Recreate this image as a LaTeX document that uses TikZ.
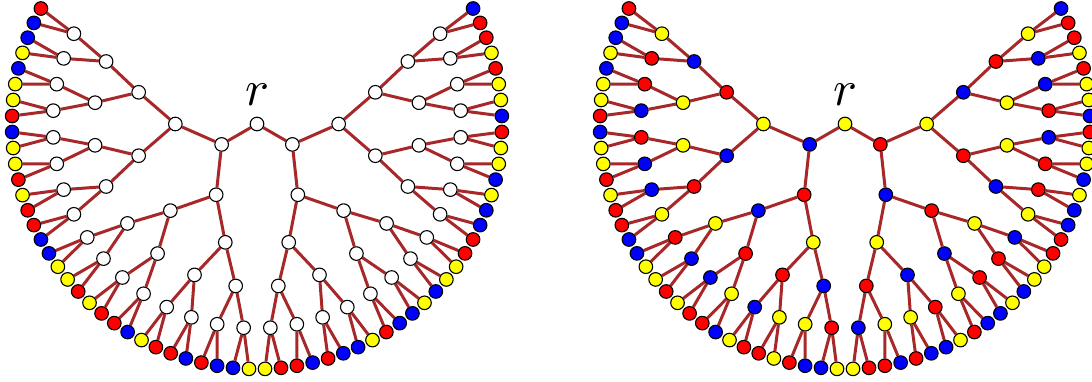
\documentclass[tikz,border=0pt]{standalone}
\usetikzlibrary{backgrounds,calc}
\definecolor{R}{RGB}{255,0,0}
\definecolor{B}{RGB}{0,0,255}
\definecolor{Y}{RGB}{255,255,0}
\definecolor{W}{RGB}{255,255,255}
\definecolor{edgec}{RGB}{168,40,42}
\tikzset{
  tn/.style={circle,draw=black,line width=1.1pt,minimum size=13.6pt,inner sep=0pt},
  br/.style={draw=edgec,line width=3pt},
  rlab/.style={scale=5,inner sep=0pt}
}
% one level of a tree: #1 prefix, #2 depth, #3 colour list
\newcommand\tlevel[3]{%
  \foreach \col [count=\k from 0] in {#3}{%
    \pgfmathsetmacro\ang{151.875+3.75*((\k+0.5)*2^(6-#2)-0.5)}%
    \pgfmathsetmacro\rad{40.8333*#2}%
    \node[tn,fill=\col] (#1-#2-\k) at ($(#1-c)+(\ang:\rad)$) {};
  }%
}
\newcommand\mytree[9]{%
  \coordinate (#1-c) at (#2,257);
  \node[tn,fill=#3] (#1-0-0) at (#1-c) {};
  \tlevel{#1}{1}{#4}
  \tlevel{#1}{2}{#5}
  \tlevel{#1}{3}{#6}
  \tlevel{#1}{4}{#7}
  \tlevel{#1}{5}{#8}
  \tlevel{#1}{6}{#9}
  \begin{pgfonlayer}{background}
  \foreach \d in {1,...,6}{%
    \pgfmathtruncatemacro\n{2^\d-1}%
    \pgfmathtruncatemacro\p{\d-1}%
    \foreach \k in {0,...,\n}{%
      \pgfmathtruncatemacro\q{floor(\k/2)}%
      \draw[br] (#1-\p-\q) -- (#1-\d-\k);
    }%
  }%
  \end{pgfonlayer}
  \node[rlab] (#1-r) at (#2,286) {$r$};
}
\begin{document}
\begin{tikzpicture}[x=1pt,y=1pt]
\useasboundingbox (0,0) rectangle (1092,381);
\mytree{A}{257}{W}
 {W,W}
 {W,W,W,W}
 {W,W,W,W,W,W,W,W}
 {W,W,W,W,W,W,W,W,W,W,W,W,W,W,W,W}
 {W,W,W,W,W,W,W,W,W,W,W,W,W,W,W,W,W,W,W,W,W,W,W,W,W,W,W,W,W,W,W,W}
 {R,B,B,Y,B,Y,Y,R,B,Y,Y,R,Y,R,R,B,B,Y,Y,R,Y,R,R,B,Y,R,R,B,R,B,B,Y,Y,R,R,B,R,B,B,Y,R,B,B,Y,B,Y,Y,R,R,B,B,Y,B,Y,Y,R,B,Y,Y,R,Y,R,R,B}
\mytree{T}{845}{Y}
 {B,R}
 {Y,R,B,Y}
 {R,B,B,Y,Y,R,R,B}
 {B,Y,Y,R,Y,R,R,B,R,B,B,Y,B,Y,Y,R}
 {Y,R,R,B,R,B,B,Y,R,B,B,Y,B,Y,Y,R,B,Y,Y,R,Y,R,R,B,Y,R,R,B,R,B,B,Y}
 {R,B,B,Y,B,Y,Y,R,B,Y,Y,R,Y,R,R,B,B,Y,Y,R,Y,R,R,B,Y,R,R,Y,R,B,B,Y,Y,R,R,B,R,B,B,Y,R,B,B,Y,B,Y,Y,R,R,B,B,Y,B,Y,Y,R,B,Y,Y,R,Y,R,R,B}
\end{tikzpicture}
\end{document}
